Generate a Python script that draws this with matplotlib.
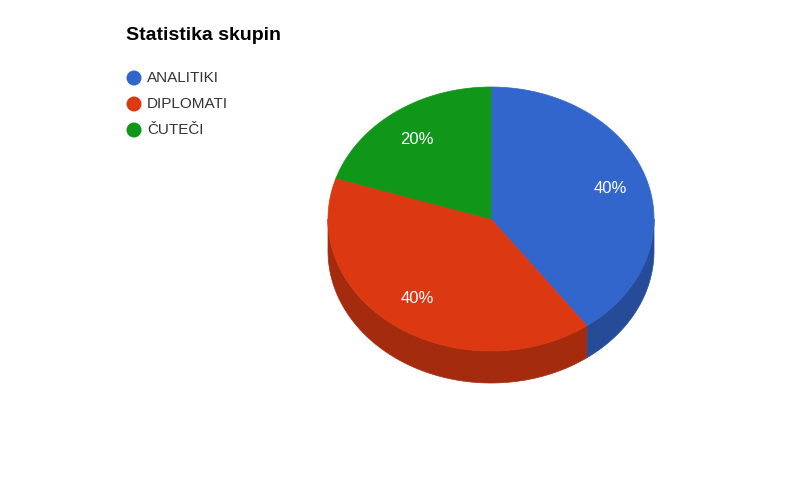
import numpy as np
import matplotlib
matplotlib.use('Agg')
import matplotlib.pyplot as plt
from matplotlib.patches import Polygon, Circle

title = "Statistika skupin"
categories = ["ANALITIKI", "DIPLOMATI", "ČUTEČI"]
values = [40, 40, 20]
colors = ["#3366CC", "#DC3912", "#109618"]
side_colors = ["#264C99", "#A52B0E", "#0C7012"]

plt.rcParams['font.family'] = ['Liberation Sans', 'DejaVu Sans']

fig = plt.figure(figsize=(8.04, 4.96), dpi=100)
ax = fig.add_axes([0, 0, 1, 1])
ax.set_xlim(0, 804)
ax.set_ylim(496, 0)
ax.axis('off')

cx, cy, rx, ry, depth = 491, 219, 163, 132, 32


def pt(theta, dy=0.0):
    return cx + rx * np.sin(theta), cy - ry * np.cos(theta) + dy


fractions = np.array(values, dtype=float) / sum(values)
starts = np.concatenate([[0], np.cumsum(fractions)[:-1]]) * 2 * np.pi
ends = starts + fractions * 2 * np.pi

# side walls
for s, e, c in zip(starts, ends, side_colors):
    a = max(s, np.pi / 2)
    b = min(e, 3 * np.pi / 2)
    if b <= a:
        continue
    t = np.linspace(a, b, 200)
    xs, ys = pt(t)
    xb, yb = pt(t[::-1], depth)
    ax.add_patch(Polygon(np.column_stack([np.r_[xs, xb], np.r_[ys, yb]]),
                         closed=True, fc=c, ec=c, lw=0.5))

# top faces
for s, e, c, f in zip(starts, ends, colors, fractions):
    t = np.linspace(s, e, 300)
    xs, ys = pt(t)
    ax.add_patch(Polygon(np.column_stack([np.r_[cx, xs], np.r_[cy, ys]]),
                         closed=True, fc=c, ec=c, lw=0.5))
    mid = (s + e) / 2
    lx = cx + 0.77 * rx * np.sin(mid)
    ly = cy - 0.74 * ry * np.cos(mid)
    ax.text(lx, ly, f"{round(f * 100)}%", color='white', fontsize=12,
            ha='center', va='center')

# title
ax.text(126, 35, title, fontsize=14, fontweight='bold', color='black',
        ha='left', va='center')

# legend
for i, (lab, c) in enumerate(zip(categories, colors)):
    y = 78 + i * 26
    ax.add_patch(Circle((134, y), 7.5, fc=c, ec='none'))
    ax.text(147, y, lab, fontsize=11, color='#333333', ha='left', va='center')

fig.savefig('out.png', dpi=100, facecolor='white')
